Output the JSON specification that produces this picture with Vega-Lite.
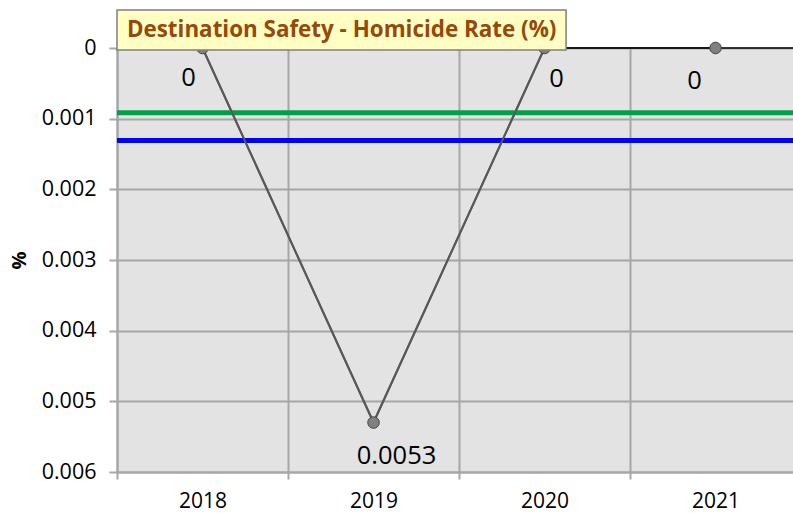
{
  "$schema": "https://vega.github.io/schema/vega-lite/v6.json",
  "width": 676,
  "height": 424,
  "autosize": "none",
  "padding": {"left": 117, "top": 48, "right": 0, "bottom": 46},
  "background": "white",
  "config": {
    "view": {"fill": "#e3e3e3", "stroke": null},
    "font": "Open Sans"
  },
  "datasets": {
    "rates": [
      {"year": 2018, "rate": 0, "label": "0"},
      {"year": 2019, "rate": 0.0053, "label": "0.0053"},
      {"year": 2020, "rate": 0, "label": "0"},
      {"year": 2021, "rate": 0, "label": "0"}
    ],
    "refs": [
      {"name": "Green", "level": 0.000915},
      {"name": "Blue", "level": 0.00131}
    ],
    "heading": [
      {"title": "Destination Safety - Homicide Rate (%)"}
    ]
  },
  "layer": [
    {
      "data": {"name": "rates"},
      "mark": {"type": "line", "color": "#595959", "strokeWidth": 2},
      "encoding": {
        "x": {
          "field": "year",
          "type": "quantitative",
          "scale": {"domain": [2017.5, 2021.453], "nice": false, "zero": false},
          "axis": {
            "title": null,
            "values": [2017.5, 2018, 2018.5, 2019, 2019.5, 2020, 2020.5, 2021],
            "labelExpr": "datum.value % 1 === 0 ? format(datum.value, 'd') : ''",
            "grid": true,
            "gridColor": "#a6a6a6",
            "gridWidth": 2,
            "gridOpacity": {"condition": {"test": "datum.value % 1 === 0", "value": 0}, "value": 1},
            "tickOpacity": {"condition": {"test": "datum.value % 1 === 0", "value": 0}, "value": 1},
            "tickColor": "#a6a6a6",
            "tickWidth": 2,
            "tickSize": 7,
            "domainColor": "#a6a6a6",
            "domainWidth": 2,
            "labelFontSize": 21,
            "labelColor": "#000000",
            "labelPadding": 11,
            "labelFlush": false,
            "labelOverlap": false
          }
        },
        "y": {
          "field": "rate",
          "type": "quantitative",
          "scale": {"domain": [0, 0.006], "reverse": true, "nice": false, "zero": true},
          "axis": {
            "title": "%",
            "titleFontSize": 20,
            "titleFontWeight": "bold",
            "titleColor": "#000000",
            "titlePadding": 12,
            "values": [0, 0.001, 0.002, 0.003, 0.004, 0.005, 0.006],
            "format": ".3~f",
            "labelFontSize": 21.5,
            "labelColor": "#000000",
            "labelPadding": 13,
            "tickSize": 8,
            "tickColor": "#a6a6a6",
            "tickWidth": 2,
            "gridColor": "#a6a6a6",
            "gridWidth": 2,
            "domainColor": "#a6a6a6",
            "domainWidth": 2
          }
        }
      }
    },
    {
      "data": {"name": "refs"},
      "mark": {"type": "rule", "strokeWidth": 5},
      "encoding": {
        "y": {"field": "level", "type": "quantitative"},
        "color": {
          "field": "name",
          "type": "nominal",
          "scale": {"domain": ["Green", "Blue"], "range": ["#00a04a", "#0000ff"]},
          "legend": null
        }
      }
    },
    {
      "data": {"name": "rates"},
      "mark": {"type": "line", "color": "#595959", "strokeWidth": 2},
      "encoding": {
        "x": {"field": "year", "type": "quantitative"},
        "y": {"field": "rate", "type": "quantitative"}
      }
    },
    {
      "data": {"name": "heading"},
      "mark": {"type": "rule", "color": "#000000", "strokeWidth": 1.5},
      "encoding": {
        "y": {"datum": 0, "type": "quantitative"}
      }
    },
    {
      "data": {"name": "rates"},
      "mark": {"type": "circle", "color": "#808080", "opacity": 1, "size": 133, "stroke": "#404040", "strokeWidth": 1},
      "encoding": {
        "x": {"field": "year", "type": "quantitative"},
        "y": {"field": "rate", "type": "quantitative"}
      }
    },
    {
      "data": {"name": "rates"},
      "transform": [{"filter": "datum.year === 2018"}],
      "mark": {"type": "text", "fontSize": 25.5, "color": "#000000", "baseline": "middle", "dx": -14, "dy": 30},
      "encoding": {
        "x": {"field": "year", "type": "quantitative"},
        "y": {"field": "rate", "type": "quantitative"},
        "text": {"field": "label"}
      }
    },
    {
      "data": {"name": "rates"},
      "transform": [{"filter": "datum.year === 2019"}],
      "mark": {"type": "text", "fontSize": 25.5, "color": "#000000", "baseline": "middle", "dx": 23, "dy": 33},
      "encoding": {
        "x": {"field": "year", "type": "quantitative"},
        "y": {"field": "rate", "type": "quantitative"},
        "text": {"field": "label"}
      }
    },
    {
      "data": {"name": "rates"},
      "transform": [{"filter": "datum.year === 2020"}],
      "mark": {"type": "text", "fontSize": 25.5, "color": "#000000", "baseline": "middle", "dx": 12, "dy": 31},
      "encoding": {
        "x": {"field": "year", "type": "quantitative"},
        "y": {"field": "rate", "type": "quantitative"},
        "text": {"field": "label"}
      }
    },
    {
      "data": {"name": "rates"},
      "transform": [{"filter": "datum.year === 2021"}],
      "mark": {"type": "text", "fontSize": 25.5, "color": "#000000", "baseline": "middle", "dx": -21, "dy": 33},
      "encoding": {
        "x": {"field": "year", "type": "quantitative"},
        "y": {"field": "rate", "type": "quantitative"},
        "text": {"field": "label"}
      }
    },
    {
      "data": {"name": "heading"},
      "mark": {"type": "rect", "fill": "#ffffc4", "stroke": "#808080", "strokeWidth": 1.5, "clip": false},
      "encoding": {
        "x": {"datum": 2017.5, "type": "quantitative"},
        "x2": {"datum": 2020.126},
        "y": {"datum": -0.000538, "type": "quantitative"},
        "y2": {"datum": 0.0000283}
      }
    },
    {
      "data": {"name": "heading"},
      "mark": {"type": "text", "align": "left", "baseline": "alphabetic", "fontSize": 22.4, "fontWeight": "bold", "color": "#984807", "clip": false},
      "encoding": {
        "x": {"datum": 2017.558, "type": "quantitative"},
        "y": {"datum": -0.000156, "type": "quantitative"},
        "text": {"field": "title"}
      }
    }
  ]
}
